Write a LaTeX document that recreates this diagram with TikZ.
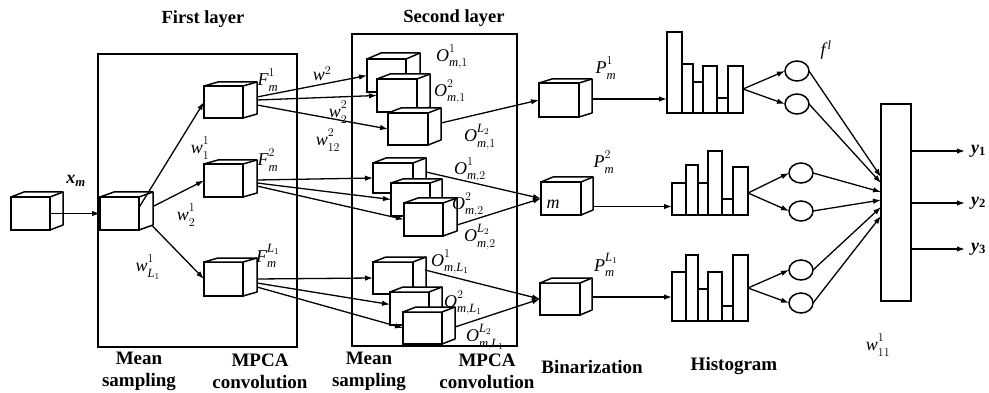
\documentclass[tikz,border=0pt]{standalone}
\usepackage{fontspec}
\setmainfont{Liberation Serif}
\usepackage{amsmath}
\usetikzlibrary{arrows.meta,shapes.geometric,fit,calc}
\newcommand\mycube[7]{%
  \node[cubef, minimum width=#4pt, minimum height=#5pt, anchor=north west] (#1) at (#2,#3) {};
  \draw[cubel] (#1.north west) -- ++(#6,-#7) -- ++(#4,0) -- ++(0,#5) -- (#1.south east) -- (#1.north east) -- cycle;
  \draw[cubel] (#1.north east) -- ++(#6,-#7);
}
\newcommand\mlab[3]{$\mathit{#1}^{\raisebox{3pt}{$\scriptstyle #2$}}_{\raisebox{-1pt}{$\scriptstyle #3$}}$}
\tikzset{
  cubef/.style={draw, fill=white, line width=1.5pt, inner sep=0, outer sep=0, rectangle},
  cubel/.style={draw, fill=white, line width=1.5pt, line join=round},
  arr/.style={line width=1.3pt, -{Latex[length=8pt,width=5.5pt]}},
  layerbox/.style={draw, line width=1.5pt, inner sep=0, outer sep=0, anchor=north west, rectangle},
  ttl/.style={font=\fontsize{18.5}{22}\selectfont\bfseries, inner sep=0},
  captxt/.style={font=\fontsize{19}{22}\selectfont\bfseries, align=center, inner sep=0},
  mth/.style={font=\fontsize{18}{22}\selectfont, inner sep=0},
  circ/.style={draw, ellipse, line width=1.5pt, minimum width=24pt, minimum height=20pt, inner sep=0, outer sep=0},
  bar/.style={draw, fill=white, line width=1.5pt},
  hbox/.style={inner sep=0, outer sep=0},
}
\begin{document}
\begin{tikzpicture}[x=1pt,y=-1pt]
\useasboundingbox (0,0) rectangle (989,393);
% layer boxes
\node[layerbox, minimum width=199pt, minimum height=293pt] (L1) at (98,54) {};
\node[layerbox, minimum width=165pt, minimum height=312pt] (L2) at (352,34) {};
\node[ttl] (t1) at (203,19) {First layer};
\node[ttl] (t2) at (454,18) {Second layer};
% cubes
\mycube{in}{11}{197}{39}{33}{13}{5}
\mycube{ms}{100}{197}{39}{33}{14}{5}
\mycube{F1}{204}{86}{39}{32}{14}{4}
\mycube{F2}{204}{164}{39}{33}{14}{4}
\mycube{F3}{204}{262}{39}{34}{14}{4}
\mycube{O1a}{367}{59}{39}{33}{14}{6}
\mycube{O1b}{377}{79}{40}{33}{13}{5}
\mycube{O1c}{388}{113}{40}{32}{13}{5}
\mycube{O2a}{373}{163}{40}{30}{13}{5}
\mycube{O2b}{391}{183}{39}{33}{12}{4}
\mycube{O2c}{404}{203}{39}{33}{14}{5}
\mycube{O3a}{373}{262}{40}{32}{13}{5}
\mycube{O3b}{390}{292}{39}{33}{13}{5}
\mycube{O3c}{403}{312}{39}{32}{13}{5}
\mycube{P1}{539}{83}{40}{34}{13}{4}
\mycube{P2}{541}{182}{40}{33}{12}{5}
\mycube{P3}{540}{283}{40}{32}{12}{5}
% histograms
\draw[bar] (667,113) rectangle (682,32);
\draw[bar] (682,113) rectangle (693,64);
\draw[bar] (693,113) rectangle (703,82);
\draw[bar] (703,113) rectangle (717,66);
\draw[bar] (717,113) rectangle (728,98);
\draw[bar] (728,113) rectangle (743,66);
\node[hbox, fit={(667,32)(743,113)}] (h1) {};
\draw[bar] (672,215) rectangle (686,183);
\draw[bar] (686,215) rectangle (698,165);
\draw[bar] (698,215) rectangle (708,183);
\draw[bar] (708,215) rectangle (722,151);
\draw[bar] (722,215) rectangle (733,199);
\draw[bar] (733,215) rectangle (748,167);
\node[hbox, fit={(672,151)(748,215)}] (h2) {};
\draw[bar] (672,321) rectangle (686,272);
\draw[bar] (686,321) rectangle (698,255);
\draw[bar] (698,321) rectangle (708,289);
\draw[bar] (708,321) rectangle (722,272);
\draw[bar] (722,321) rectangle (733,306);
\draw[bar] (733,321) rectangle (748,255);
\node[hbox, fit={(672,255)(748,321)}] (h3) {};
% ellipses
\node[circ] (e1) at (797,71) {};
\node[circ] (e2) at (797,104) {};
\node[circ] (e3) at (801,173) {};
\node[circ] (e4) at (801,211) {};
\node[circ] (e5) at (801,270) {};
\node[circ] (e6) at (801,303) {};
% output
\node[draw, rectangle, line width=1.5pt, minimum width=30pt, minimum height=197pt, inner sep=0, outer sep=0] (out) at (896,202.5) {};
% connectors
\draw[arr] (in.east) -- (ms.west);
\draw[arr] ([yshift=6pt]ms.east) -- (F1.west);
\draw[arr] ([xshift=14pt,yshift=7pt]ms.east) -- (F2.west);
\draw[arr] ([xshift=13pt,yshift=-12pt]ms.east) -- (F3.west);
\draw[arr] ([xshift=14pt,yshift=5pt]F1.east) -- (O1a.west);
\draw[arr] ([xshift=14pt,yshift=2pt]F1.east) -- (O1b.west);
\draw[arr] ([xshift=14pt,yshift=-3pt]F1.east) -- (O1c.west);
\draw[arr] ([xshift=14pt,yshift=0.5pt]F2.east) -- (O2a.west);
\draw[arr] ([xshift=14pt,yshift=-2.5pt]F2.east) -- (O2b.west);
\draw[arr] ([xshift=14pt,yshift=-5.5pt]F2.east) -- (O2c.west);
\draw[arr] ([xshift=14pt]F3.east) -- (O3a.west);
\draw[arr] ([xshift=14pt,yshift=-4pt]F3.east) -- ([yshift=4pt]O3b.west);
\draw[arr] ([xshift=14pt,yshift=-8pt]F3.east) -- (O3c.west);
\draw[arr] ([xshift=13pt,yshift=6pt]O1c.east) -- (P1.west);
\draw[arr] ([xshift=13pt,yshift=6pt]O2a.east) -- (P2.west);
\draw[arr] ([xshift=14pt,yshift=-5.5pt]O2c.east) -- (P2.west);
\draw[arr] ([xshift=12pt,yshift=8pt]O3a.east) -- (P3.west);
\draw[arr] ([xshift=13pt,yshift=1pt]O3c.east) -- (P3.west);
\coordinate (p1o) at ([xshift=13pt,yshift=1pt]P1.east);
\coordinate (p2o) at ([xshift=12pt,yshift=-8pt]P2.east);
\coordinate (p3o) at ([xshift=12pt,yshift=2pt]P3.east);
\draw[arr] (p1o) -- (p1o -| h1.west);
\draw[arr] (p2o) -- (p2o -| h2.west);
\draw[arr] (p3o) -- (p3o -| h3.west);
\coordinate (h1r) at ([yshift=-16.5pt]h1.east);
\coordinate (h2r) at ([yshift=-10pt]h2.east);
\coordinate (h3r) at (h3.east);
\draw[arr] (h1r) -- (e1.west);
\draw[arr] (h1r) -- (e2.west);
\draw[arr] (h2r) -- (e3.west);
\draw[arr] (h2r) -- (e4.west);
\draw[arr] (h3r) -- (e5.west);
\draw[arr] (h3r) -- (e6.west);
\draw[arr] (e1.east) -- ([yshift=25.5pt]out.west);
\draw[arr] (e2.east) -- ([yshift=19.5pt]out.west);
\draw[arr] (e3.east) -- ([yshift=10.5pt]out.west);
\draw[arr] (e4.east) -- ([yshift=2.5pt]out.west);
\draw[arr] (e5.east) -- ([yshift=-4.5pt]out.west);
\draw[arr] (e6.east) -- ([yshift=-13.5pt]out.west);
\coordinate (y1) at (965,151);
\coordinate (y2) at (965,203);
\coordinate (y3) at (965,249);
\draw[arr] (out.east |- y1) -- (y1);
\draw[arr] (out.east |- y2) -- (y2);
\draw[arr] (out.east |- y3) -- (y3);
\node[mth, anchor=west] (ly1) at ([xshift=6pt]y1) {\textbf{\textit{y}}\textsubscript{\textbf{1}}};
\node[mth, anchor=west] (ly2) at ([xshift=6pt]y2) {\textbf{\textit{y}}\textsubscript{\textbf{2}}};
\node[mth, anchor=west] (ly3) at ([xshift=6pt]y3) {\textbf{\textit{y}}\textsubscript{\textbf{3}}};
% math labels
\node[mth] (lx) at (76,181) {\textbf{\textit{x}}\textsubscript{\textbf{\textit{m}}}};
\node[mth] (lw1) at (200,148) {\mlab{w}{1}{1}};
\node[mth] (lw2) at (186,215) {\mlab{w}{1}{2}};
\node[mth] (lw3) at (148,267) {\mlab{w}{1}{\mathit{L}_1}};
\node[mth] (lF1) at (268,80) {\mlab{F}{1}{\mathit{m}}};
\node[mth] (lF2) at (268,160) {\mlab{F}{2}{\mathit{m}}};
\node[mth] (lF3) at (268,256) {\mlab{F}{\mathit{L}_1}{\mathit{m}}};
\node[mth] (lwa) at (322,74) {$\mathit{w}^{2}$};
\node[mth] (lwb) at (338,112) {\mlab{w}{2}{2}};
\node[mth] (lwc) at (328,140) {\mlab{w}{2}{12}};
\node[mth] (o11) at (452,57) {\mlab{O}{1}{\mathit{m},1}};
\node[mth] (o12) at (450,92) {\mlab{O}{2}{\mathit{m},1}};
\node[mth] (o13) at (480,137) {\mlab{O}{\mathit{L}_2}{\mathit{m},1}};
\node[mth] (o21) at (470,170) {\mlab{O}{1}{\mathit{m},2}};
\node[mth] (o22) at (468,205) {\mlab{O}{2}{\mathit{m},2}};
\node[mth] (o23) at (480,237) {\mlab{O}{\mathit{L}_2}{\mathit{m},2}};
\node[mth] (o31) at (450,262) {\mlab{O}{1}{\mathit{m},\mathit{L}_1}};
\node[mth] (o32) at (463,303) {\mlab{O}{2}{\mathit{m},\mathit{L}_1}};
\node[mth] (o33) at (485,337) {\mlab{O}{\mathit{L}_2}{\mathit{m},\mathit{L}_1}};
\node[mth] (lp1) at (606,68) {\mlab{P}{1}{\mathit{m}}};
\node[mth] (lp2) at (604,162) {\mlab{P}{2}{\mathit{m}}};
\node[mth] (lp3) at (606,265) {\mlab{P}{\mathit{L}_1}{\mathit{m}}};
\node[mth] (lm) at (553,204) {$\mathit{m}$};
\node[mth] (lf) at (826,50) {$\mathit{f}^{\,\mathit{l}}$};
\node[mth] (lw11) at (878,345) {\mlab{w}{1}{11}};
% captions
\node[captxt] (c1) at (139,371) {Mean\\sampling};
\node[captxt] (c2) at (260,371) {MPCA\\convolution};
\node[captxt] (c3) at (369,371) {Mean\\sampling};
\node[captxt] (c4) at (487,371) {MPCA\\convolution};
\node[captxt] (c5) at (592,367) {Binarization};
\node[captxt] (c6) at (734,366) {Histogram};
\end{tikzpicture}
\end{document}
